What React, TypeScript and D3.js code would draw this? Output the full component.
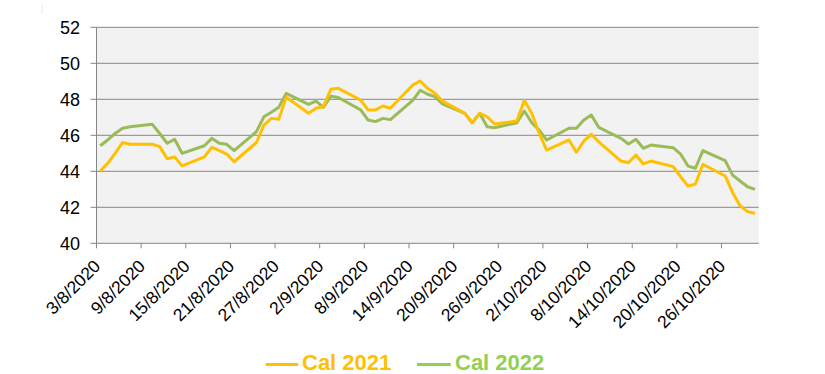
import React from "react";
import * as d3 from "d3";

const dates: string[] = [
  "3/8/2020", "4/8/2020", "5/8/2020", "6/8/2020", "7/8/2020",
  "10/8/2020", "11/8/2020", "12/8/2020", "13/8/2020", "14/8/2020",
  "17/8/2020", "18/8/2020", "19/8/2020", "20/8/2020", "21/8/2020",
  "24/8/2020", "25/8/2020", "26/8/2020", "27/8/2020", "28/8/2020",
  "31/8/2020", "1/9/2020", "2/9/2020", "3/9/2020", "4/9/2020",
  "7/9/2020", "8/9/2020", "9/9/2020", "10/9/2020", "11/9/2020",
  "14/9/2020", "15/9/2020", "16/9/2020", "17/9/2020", "18/9/2020",
  "21/9/2020", "22/9/2020", "23/9/2020", "24/9/2020", "25/9/2020",
  "28/9/2020", "29/9/2020", "30/9/2020", "1/10/2020", "2/10/2020",
  "5/10/2020", "6/10/2020", "7/10/2020", "8/10/2020", "9/10/2020",
  "12/10/2020", "13/10/2020", "14/10/2020", "15/10/2020", "16/10/2020",
  "19/10/2020", "20/10/2020", "21/10/2020", "22/10/2020", "23/10/2020",
  "26/10/2020", "27/10/2020", "28/10/2020", "29/10/2020", "30/10/2020",
];

const cal2021: number[] = [
  44.02, 44.44, 45.0, 45.6, 45.5,
  45.5, 45.37, 44.7, 44.8, 44.3,
  44.8, 45.33, 45.15, 44.96, 44.53,
  45.6, 46.57, 46.94, 46.89, 48.11,
  47.22, 47.5, 47.59, 48.56, 48.61,
  47.96, 47.41, 47.41, 47.63, 47.5,
  48.79, 49.02, 48.61, 48.33, 47.9,
  47.22, 46.7, 47.22, 47.03, 46.63,
  46.79, 47.93, 47.22, 46.11, 45.18,
  45.74, 45.06, 45.68, 46.06, 45.64,
  44.57, 44.48, 44.91, 44.41, 44.57,
  44.26, 43.7, 43.18, 43.29, 44.39,
  43.74, 42.81, 42.09, 41.76, 41.67,
];

const cal2022: number[] = [
  45.42, 45.74, 46.1, 46.39, 46.47,
  46.61, 46.1, 45.56, 45.78, 45.0,
  45.42, 45.83, 45.56, 45.5, 45.15,
  46.2, 47.03, 47.28, 47.56, 48.33,
  47.72, 47.9, 47.55, 48.17, 48.1,
  47.41, 46.85, 46.76, 46.94, 46.87,
  47.94, 48.5, 48.28, 48.15, 47.74,
  47.22, 46.7, 47.22, 46.48, 46.42,
  46.7, 47.35, 46.7, 46.29, 45.74,
  46.39, 46.39, 46.85, 47.13, 46.44,
  45.83, 45.52, 45.78, 45.28, 45.46,
  45.31, 44.96, 44.29, 44.17, 45.15,
  44.59, 43.79, 43.46, 43.14, 43.0,
];

const xTickLabels: string[] = [
  "3/8/2020", "9/8/2020", "15/8/2020", "21/8/2020", "27/8/2020",
  "2/9/2020", "8/9/2020", "14/9/2020", "20/9/2020", "26/9/2020",
  "2/10/2020", "8/10/2020", "14/10/2020", "20/10/2020", "26/10/2020",
];

const yTicks: number[] = [40, 42, 44, 46, 48, 50, 52];

const seriesNames: string[] = ["Cal 2021", "Cal 2022"];

export default function App() {
  const W = 825;
  const H = 374;
  const left = 96.5;
  const right = 758.7;
  const top = 27.3;
  const bottom = 243.3;

  const parse = d3.timeParse("%d/%m/%Y");
  const start = parse(dates[0]) as Date;
  const end = d3.timeDay.offset(parse(dates[dates.length - 1]) as Date, 1);
  const nDays = d3.timeDay.count(start, end);

  const x = d3.scaleLinear().domain([0, nDays]).range([left, right]);
  const y = d3.scaleLinear().domain([40, 52]).range([bottom, top]);

  const dayIdx = (s: string) => d3.timeDay.count(start, parse(s) as Date);

  const line = d3
    .line<number>()
    .x((_, i) => x(dayIdx(dates[i]) + 0.5))
    .y((v) => y(v))
    .curve(d3.curveLinear);

  const gridColor = "#868686";
  const font = "'Liberation Sans', Arial, sans-serif";
  const yellow = "#FFC000";
  const greenLine = "#9BBB59";
  const greenLegend = "#92D050";

  return (
    <svg
      width={W}
      height={H}
      style={{ position: "absolute", left: 0, top: 0 }}
      fontFamily={font}
    >
      <rect x={0} y={0} width={W} height={H} fill="#ffffff" />
      <line x1={42} x2={42} y1={5} y2={14} stroke="#e6e6e6" strokeWidth={1} />
      <rect x={left} y={top} width={right - left} height={bottom - top} fill="#F2F2F2" />
      {yTicks.map((t) => (
        <g key={t}>
          <line x1={left - 6} x2={right} y1={y(t)} y2={y(t)} stroke={gridColor} strokeWidth={1} />
          <text x={80} y={y(t) + 6.5} fontSize={18} textAnchor="end" fill="#000">
            {t}
          </text>
        </g>
      ))}
      <line x1={left} x2={left} y1={top} y2={bottom} stroke={gridColor} strokeWidth={1} />
      {xTickLabels.map((s) => {
        const tx = x(dayIdx(s));
        return (
          <g key={s}>
            <line x1={tx} x2={tx} y1={bottom} y2={bottom + 5} stroke={gridColor} strokeWidth={1} />
            <text
              transform={`translate(${tx + 5},${bottom + 24}) rotate(-45)`}
              fontSize={17.5}
              textAnchor="end"
              fill="#000"
            >
              {s}
            </text>
          </g>
        );
      })}
      <path d={line(cal2022) || ""} fill="none" stroke={greenLine} strokeWidth={3} strokeLinejoin="round" />
      <path d={line(cal2021) || ""} fill="none" stroke={yellow} strokeWidth={3} strokeLinejoin="round" />
      <g>
        <line x1={265.7} x2={298.3} y1={364.5} y2={364.5} stroke={yellow} strokeWidth={3} />
        <text x={302} y={370} fontSize={22} fontWeight="bold" fill={yellow}>
          {seriesNames[0]}
        </text>
        <line x1={417} x2={450.7} y1={364.5} y2={364.5} stroke={greenLegend} strokeWidth={3} />
        <text x={455} y={370} fontSize={22} fontWeight="bold" fill={greenLegend}>
          {seriesNames[1]}
        </text>
      </g>
    </svg>
  );
}
